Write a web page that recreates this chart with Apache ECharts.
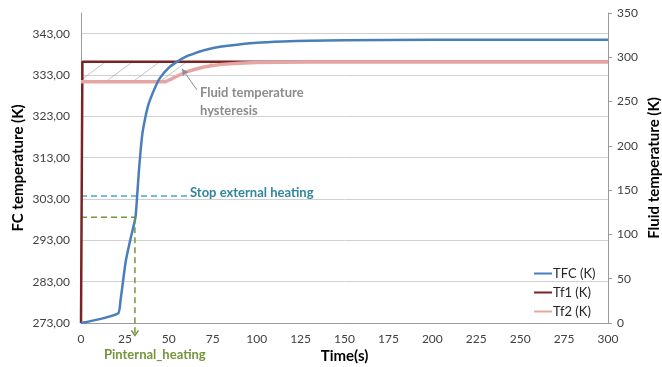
<!DOCTYPE html>
<html>
<head>
<meta charset="utf-8">
<script src="https://cdn.jsdelivr.net/npm/echarts@6/dist/echarts.min.js"></script>
<style>html,body{margin:0;padding:0;background:#fff}#c{width:662px;height:367px}</style>
</head>
<body>
<div id="c"></div>
<script>
// ---- data ----
const tfcTime = [0, 21, 22.5, 25.5, 28, 31, 32, 33, 34, 35, 36.5, 38.5, 42, 45, 50, 55, 60, 65, 70, 80, 90, 100, 115, 130, 150, 200, 300];
const tfcTemp = [273, 275.3, 278.5, 288, 293, 298.6, 304, 310, 315, 319, 322.5, 326, 329.8, 332.3, 334.8, 336.3, 337.5, 338.3, 339, 339.9, 340.4, 340.8, 341.1, 341.3, 341.4, 341.5, 341.5];
const tf1Time = [0, 0.8, 300];
const tf1Temp = [0, 295, 295];
const tf2Time = [0, 48, 52, 56, 60, 65, 70, 75, 80, 90, 100, 115, 130, 300];
const tf2Temp = [272.4, 272.4, 276, 280, 283.5, 286.5, 289, 290.8, 292, 293.3, 294, 294.4, 294.6, 294.7];
const hatchEndIndex = 7; // hysteresis hatch spans tf2 points 0..7 (t = 0..75)
const stopHeatingTemp = 303.7;   const stopHeatingEnd = 61;
const pHeatTime = 30.7;          const pHeatTemp = 298.6;  const pHeatArrowEnd = 270;
const hystArrowFrom = [66, 329.4]; const hystArrowTo = [57.5, 334.5];
const xTicks = {min: 0, max: 300, interval: 25};
const yLeft = {min: 273, max: 348, interval: 10};
const yRight = {min: 0, max: 350, interval: 50};

const zip = (a, b) => a.map((v, i) => [v, b[i]]);
const FONT = 'Lato';

// hatch pattern
const pc = document.createElement('canvas');
pc.width = 27; pc.height = 20;
const pctx = pc.getContext('2d');
pctx.strokeStyle = '#b4b4b4'; pctx.lineWidth = 0.8;
pctx.beginPath(); pctx.moveTo(0, 20); pctx.lineTo(27, 0); pctx.stroke();

const hatchT = tf2Time.slice(0, hatchEndIndex + 1);
const hatchLow = tf2Temp.slice(0, hatchEndIndex + 1);
const hatchTop = tf1Temp[1];

const chart = echarts.init(document.getElementById('c'));
chart.setOption({
  animation: false,
  textStyle: {fontFamily: FONT},
  grid: {left: 81, right: 54, top: 13, bottom: 44, containLabel: false, outerBoundsMode: 'none'},
  legend: {
    data: [{name: 'TFC (K)', icon: 'rect'}, {name: 'Tf1 (K)', icon: 'rect'}, {name: 'Tf2 (K)', icon: 'rect'}],
    orient: 'vertical', left: 529, top: 262,
    itemWidth: 18, itemHeight: 2, itemGap: 6,
    textStyle: {fontFamily: FONT, fontSize: 13, color: '#262626', padding: [0, 0, 0, -4]}
  },
  xAxis: {
    type: 'value', min: xTicks.min, max: xTicks.max, interval: xTicks.interval,
    name: 'Time(s)', nameLocation: 'middle', nameGap: 26, nameMoveOverlap: false,
    nameTextStyle: {fontFamily: FONT, fontSize: 15, fontWeight: 'bold', color: '#000'},
    axisLine: {show: true, lineStyle: {color: '#9a9a9a', width: 1}},
    axisTick: {show: false},
    axisLabel: {fontFamily: FONT, fontSize: 12, color: '#404040', margin: 10},
    splitLine: {show: false}
  },
  yAxis: [{
    type: 'value', min: yLeft.min, max: yLeft.max, interval: yLeft.interval,
    name: 'FC temperature (K)', nameLocation: 'middle', nameGap: 55, nameMoveOverlap: false,
    nameTextStyle: {fontFamily: FONT, fontSize: 15, fontWeight: 'bold', color: '#000'},
    axisLine: {show: true, lineStyle: {color: '#9a9a9a', width: 1}},
    axisTick: {show: false},
    axisLabel: {fontFamily: FONT, fontSize: 12, color: '#404040', margin: 11, showMaxLabel: false,
      formatter: v => v >= yLeft.max ? '' : v.toFixed(2).replace('.', ',')},
    splitLine: {show: true, showMaxLine: false, lineStyle: {color: '#d0d0d0', width: 1}}
  }, {
    type: 'value', min: yRight.min, max: yRight.max, interval: yRight.interval,
    name: 'Fluid temperature (K)', nameLocation: 'middle', nameGap: 39, nameRotate: 90, nameMoveOverlap: false,
    nameTextStyle: {fontFamily: FONT, fontSize: 15, fontWeight: 'bold', color: '#000'},
    axisLine: {show: true, lineStyle: {color: '#9a9a9a', width: 1}},
    axisTick: {show: true, length: 4, lineStyle: {color: '#9a9a9a'}},
    axisLabel: {fontFamily: FONT, fontSize: 12, color: '#404040', margin: 9},
    splitLine: {show: false}
  }],
  series: [
    {name: 'hatch', type: 'custom', yAxisIndex: 1, silent: true, z: 1, clip: true,
      data: [[hatchT[0], hatchLow[0]]],
      renderItem: (params, api) => {
        const pts = [];
        for (let i = 0; i < hatchT.length; i++) pts.push(api.coord([hatchT[i], hatchTop]));
        for (let i = hatchT.length - 1; i >= 0; i--) pts.push(api.coord([hatchT[i], hatchLow[i]]));
        return {type: 'polygon', shape: {points: pts}, style: {fill: {image: pc, repeat: 'repeat'}, stroke: null}};
      }},
    {name: 'stop', type: 'line', yAxisIndex: 0, data: [[0, stopHeatingTemp], [stopHeatingEnd, stopHeatingTemp]],
      symbol: 'none', lineStyle: {color: '#4bacc6', width: 1.5, type: [6, 4]}, z: 2},
    {name: 'pheat', type: 'line', yAxisIndex: 0,
      data: [[0, pHeatTemp], [pHeatTime, pHeatTemp]],
      symbol: 'none', lineStyle: {color: '#77933c', width: 1.5, type: [6, 4]}, z: 2},
    {name: 'hyst', type: 'line', yAxisIndex: 0, data: [], symbol: 'none',
      markLine: {silent: true, symbol: ['none', 'arrow'], symbolSize: [5, 7], label: {show: false},
        lineStyle: {color: '#8c8c8c', width: 1, type: 'solid'},
        data: [[{coord: hystArrowFrom}, {coord: hystArrowTo}]]}},
    {name: 'TFC (K)', type: 'line', yAxisIndex: 0, data: zip(tfcTime, tfcTemp),
      symbol: 'none', smooth: 0.2, lineStyle: {color: '#4a7ebb', width: 2.5}, itemStyle: {color: '#4a7ebb'}, z: 4},
    {name: 'Tf1 (K)', type: 'line', yAxisIndex: 1, data: zip(tf1Time, tf1Temp),
      symbol: 'none', lineStyle: {color: '#7a2323', width: 2.5}, itemStyle: {color: '#7a2323'}, z: 3},
    {name: 'Tf2 (K)', type: 'line', yAxisIndex: 1, data: zip(tf2Time, tf2Temp),
      symbol: 'none', lineStyle: {color: '#e6a5a5', width: 3.5}, itemStyle: {color: '#e6a5a5'}, z: 3}
  ]
});

// green vertical guide: from the pheat point down below the time axis, via the chart's own scales
const pTop = chart.convertToPixel({seriesIndex: 2}, [pHeatTime, pHeatTemp]);
const pBot = chart.convertToPixel({seriesIndex: 2}, [pHeatTime, pHeatArrowEnd]);
chart.setOption({
  graphic: [
    {type: 'line', shape: {x1: pTop[0], y1: pTop[1], x2: pBot[0], y2: pBot[1]}, z: 5,
      style: {stroke: '#77933c', lineWidth: 1.5, lineDash: [6, 4]}},
    {type: 'polyline', shape: {points: [[pBot[0] - 3.5, pBot[1] - 5], [pBot[0], pBot[1]], [pBot[0] + 3.5, pBot[1] - 5]]}, z: 5,
      style: {stroke: '#77933c', lineWidth: 1.5, fill: null}},
    {type: 'text', left: 200, top: 84, style: {text: 'Fluid temperature\nhysteresis', fill: '#8c8c8c',
      font: 'bold 13px ' + FONT, lineHeight: 18}},
    {type: 'text', left: 190, top: 186, style: {text: 'Stop external heating', fill: '#31859c',
      font: 'bold 13px ' + FONT}},
    {type: 'text', left: 104, top: 348, style: {text: 'Pinternal_heating', fill: '#77933c',
      font: 'bold 13px ' + FONT}}
  ]
});
</script>
</body>
</html>
